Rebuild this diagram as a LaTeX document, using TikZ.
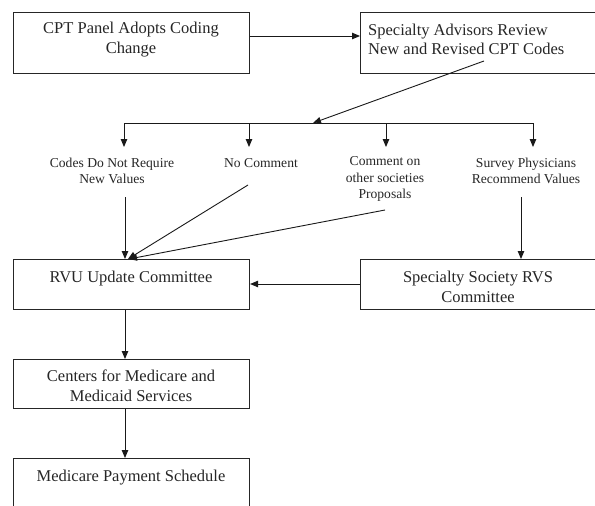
\documentclass[tikz,border=0pt]{standalone}
\usepackage{fontspec}
\setmainfont{Liberation Serif}
\usetikzlibrary{arrows.meta}
\begin{document}
\begin{tikzpicture}[x=1pt,y=-1pt,
  box/.style={draw=black!85, line width=1.1pt, inner sep=0pt, anchor=north west},
  btext/.style={font=\fontsize{16.5}{19.5}\selectfont, align=center, inner sep=0pt, text=black!85},
  ltext/.style={font=\fontsize{13.6}{16.2}\selectfont, align=center, inner sep=0pt, text=black!85},
  conn/.style={line width=0.9pt, draw=black!90, -{Triangle[length=8pt,width=6.5pt]}},
  plainline/.style={line width=0.9pt, draw=black!90}]
\useasboundingbox (0,0) rectangle (595,506);
\clip (0,0) rectangle (595,506);
% boxes
\node[box, minimum width=236pt, minimum height=61pt] (b1) at (13,12) {};
\node[box, minimum width=240pt, minimum height=61pt] (b2) at (360,12) {};
\node[box, minimum width=236pt, minimum height=50pt] (b3) at (13,259) {};
\node[box, minimum width=240pt, minimum height=50pt] (b4) at (360,259) {};
\node[box, minimum width=236pt, minimum height=49pt] (b5) at (13,359) {};
\node[box, minimum width=236pt, minimum height=60pt] (b6) at (13,458) {};
% box texts
\node[btext] (t1) at (131,39.5) {CPT Panel Adopts Coding\\Change};
\node[btext, align=left, anchor=west] (t2) at (368,39.5) {Specialty Advisors Review\\New and Revised CPT Codes};
\node[btext] (t3) at (131,278.5) {RVU Update Committee};
\node[btext] (t4) at (478,287) {Specialty Society RVS\\Committee};
\node[btext] (t5) at (131,386) {Centers for Medicare and\\Medicaid Services};
\node[btext] (t6) at (131,478) {Medicare Payment Schedule};
% labels
\node[ltext] (l1) at (112,171) {Codes Do Not Require\\New Values};
\node[ltext] (l2) at (261,163) {No Comment};
\node[ltext] (l3) at (385,179) {Comment on\\other societies\\Proposals};
\node[ltext] (l4) at (526,171) {Survey Physicians\\Recommend Values};
% coordinates
\coordinate (d0) at (484,61);
\coordinate (dt) at (313,123);
\coordinate (j1) at (124,123);
\coordinate (j2) at (249,123);
\coordinate (j3) at (386,123);
\coordinate (j4) at (533,123);
\coordinate (e1) at (124,147);
\coordinate (e2) at (249,147);
\coordinate (e3) at (386,147);
\coordinate (e4) at (533,147);
\coordinate (s1) at (125,197);
\coordinate (s2) at (248,185);
\coordinate (s3) at (385,210);
\coordinate (s4) at (521,197);
\coordinate (r1) at (125,259);
\coordinate (r2) at (128,259);
\coordinate (r3) at (129,259);
\coordinate (r4) at (521,259);
% connectors
\draw[conn] (b1.east |- 0,36) -- (b2.west |- 0,36);
\draw[conn] (d0) -- (dt);
\draw[plainline] (j1) -- (j4);
\draw[conn] (j1) -- (e1);
\draw[conn] (j2) -- (e2);
\draw[conn] (j3) -- (e3);
\draw[conn] (j4) -- (e4);
\draw[conn] (s1) -- (r1);
\draw[conn] (s2) -- (r2);
\draw[conn] (s3) -- (r3);
\draw[conn] (s4) -- (r4);
\draw[conn] (b4.west |- 0,284) -- (b3.east |- 0,284);
\draw[conn] (b3.south -| s1) -- (b5.north -| s1);
\draw[conn] (b5.south -| s1) -- (b6.north -| s1);
\end{tikzpicture}
\end{document}
